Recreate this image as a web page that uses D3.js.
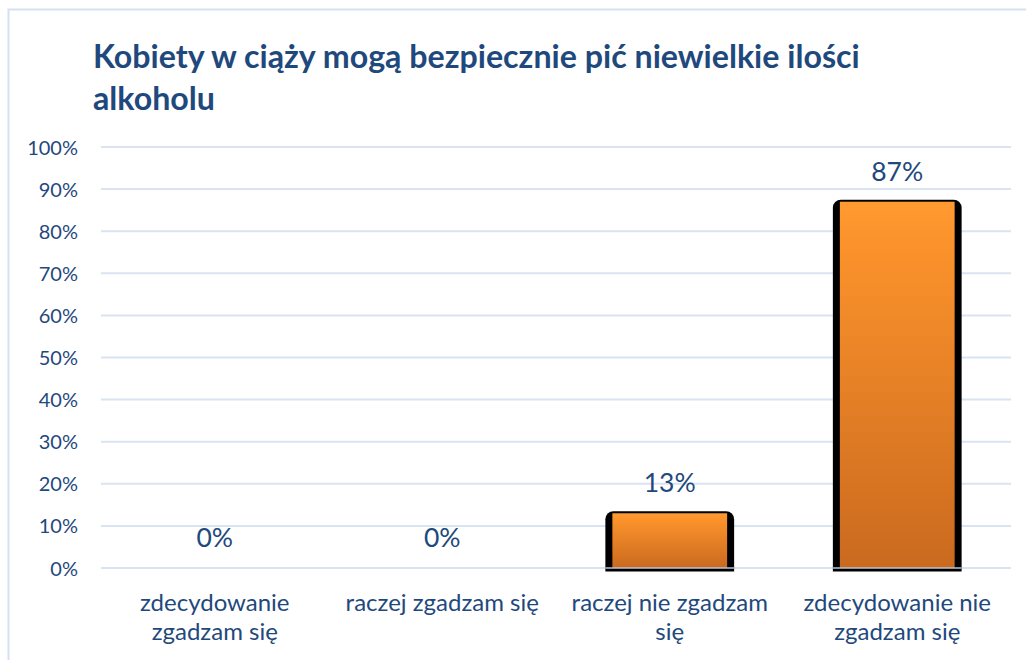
<!DOCTYPE html>
<html><head><meta charset="utf-8">
<script src="https://cdn.jsdelivr.net/npm/d3@7"></script>
<style>
html,body{margin:0;padding:0;background:#fff;}
svg{display:block;}
text{font-family:Lato,"Open Sans",sans-serif;}
</style></head>
<body>
<svg id="chart" width="1026" height="660"></svg>
<script>
const titleLines = ["Kobiety w ciąży mogą bezpiecznie pić niewielkie ilości", "alkoholu"];
const categories = ["zdecydowanie zgadzam się", "raczej zgadzam się", "raczej nie zgadzam się", "zdecydowanie nie zgadzam się"];
const categoryLines = [["zdecydowanie", "zgadzam się"], ["raczej zgadzam się"], ["raczej nie zgadzam", "się"], ["zdecydowanie nie", "zgadzam się"]];
const values = [0, 0, 13, 87];
const yTicks = [0, 10, 20, 30, 40, 50, 60, 70, 80, 90, 100];

const svg = d3.select("#chart");
const textColor = "#1F497D";

// frame
svg.append("rect").attr("x", 8.5).attr("y", 9.5).attr("width", 1030).attr("height", 700)
  .attr("fill", "#fff").attr("stroke", "#D5E1F0").attr("stroke-width", 2);

const x = d3.scaleBand().domain(categories).range([101, 1011]).paddingInner(0.434).paddingOuter(0.217);
const y = d3.scaleLinear().domain([0, 100]).range([568, 147]);

// gridlines
svg.append("g").selectAll("line").data(yTicks).join("line")
  .attr("x1", 101).attr("x2", 1011)
  .attr("y1", d => y(d)).attr("y2", d => y(d))
  .attr("stroke", "#D9E4F2").attr("stroke-width", 2);

// y axis labels
const yAxis = d3.axisLeft(y).tickValues(yTicks).tickFormat(d => d + "%").tickSize(0).tickPadding(0);
const gy = svg.append("g").attr("transform", "translate(78,0)").call(yAxis);
gy.select(".domain").remove();
gy.selectAll("text").attr("font-size", 20).attr("fill", textColor)
  .style("font-family", "Lato, 'Open Sans', sans-serif").attr("dy", "0.35em");

// gradient
const defs = svg.append("defs");
const grad = defs.append("linearGradient").attr("id", "barGrad").attr("x1", 0).attr("y1", 0).attr("x2", 0).attr("y2", 1);
grad.append("stop").attr("offset", "0%").attr("stop-color", "#FF9A30");
grad.append("stop").attr("offset", "12%").attr("stop-color", "#FB922B");
grad.append("stop").attr("offset", "100%").attr("stop-color", "#CA6A1F");

// bars
const bw = x.bandwidth();
const barData = categories.map((c, i) => ({c, v: values[i]})).filter(d => d.v > 0);
const barG = svg.append("g");
barData.forEach(d => {
  const x0 = x(d.c), yTop = y(d.v), yBase = y(0);
  const r = 8;
  const path = d3.path();
  path.moveTo(x0, yBase + 3.5);
  path.lineTo(x0, yTop - 2 + r);
  path.arcTo(x0, yTop - 2, x0 + r, yTop - 2, r);
  path.lineTo(x0 + bw - r, yTop - 2);
  path.arcTo(x0 + bw, yTop - 2, x0 + bw, yTop - 2 + r, r);
  path.lineTo(x0 + bw, yBase + 3.5);
  path.closePath();
  barG.append("path").attr("d", path.toString()).attr("fill", "#000");
  barG.append("rect").attr("x", x0 + 7).attr("y", yTop).attr("width", bw - 14).attr("height", yBase - yTop)
    .attr("fill", "url(#barGrad)");
  barG.append("line").attr("x1", x0).attr("x2", x0 + bw).attr("y1", yBase).attr("y2", yBase)
    .attr("stroke", "#B8C4D6").attr("stroke-width", 1.5);
});

// data labels
svg.append("g").selectAll("text").data(values).join("text")
  .attr("x", (d, i) => x(categories[i]) + bw / 2)
  .attr("y", d => y(d) - 21)
  .attr("text-anchor", "middle").attr("font-size", 26.5).attr("fill", textColor)
  .text(d => d + "%");

// category labels
categoryLines.forEach((lines, i) => {
  const t = svg.append("text").attr("text-anchor", "middle").attr("font-size", 24).attr("fill", textColor);
  lines.forEach((ln, j) => {
    t.append("tspan").attr("x", x(categories[i]) + bw / 2).attr("y", 611 + j * 28.5).text(ln);
  });
});

// title
const title = svg.append("text").attr("x", 93).attr("font-weight", "bold").attr("fill", textColor).attr("font-size", 28);
titleLines.forEach((ln, j) => title.append("tspan").attr("x", 93).attr("y", 68 + j * 42).text(ln));
const w = title.select("tspan").node().getComputedTextLength();
title.attr("font-size", 28 * 767 / w);
</script>
</body></html>
